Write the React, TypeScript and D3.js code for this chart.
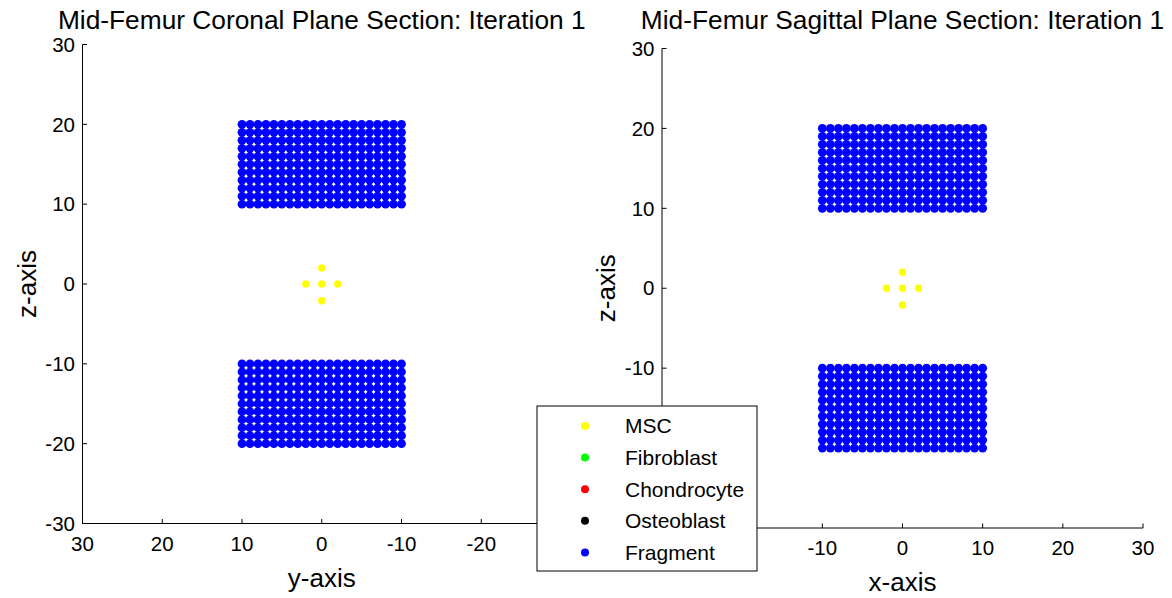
import React from 'react';
import * as d3 from 'd3';

const tickValues = [-30, -20, -10, 0, 10, 20, 30];
const gridCols = [-10, -9, -8, -7, -6, -5, -4, -3, -2, -1, 0, 1, 2, 3, 4, 5, 6, 7, 8, 9, 10];
const gridRowsTop = [10, 11, 12, 13, 14, 15, 16, 17, 18, 19, 20];
const gridRowsBottom = [-20, -19, -18, -17, -16, -15, -14, -13, -12, -11, -10];
const mscH = [0, -2, 2, 0, 0];
const mscV = [0, 0, 0, 2, -2.1];
const legendNames = ['MSC', 'Fibroblast', 'Chondrocyte', 'Osteoblast', 'Fragment'];
const legendColors = ['#ffff00', '#00ff00', '#ff0000', '#000000', '#0000ff'];

const FONT = "'Liberation Sans', Arial, Helvetica, sans-serif";

const LEG = { x: 537, y: 406, w: 220, h: 165 };
const inLegend = (px: number, py: number) =>
  px > LEG.x - 6 && px < LEG.x + LEG.w + 6 && py > LEG.y - 6 && py < LEG.y + LEG.h + 6;

type PanelCfg = {
  title: string;
  xLabel: string;
  yLabel: string;
  xDomain: [number, number];
  left: number;
  top: number;
  width: number;
  height: number;
};

const panels: PanelCfg[] = [
  { title: 'Mid-Femur Coronal Plane Section: Iteration 1', xLabel: 'y-axis', yLabel: 'z-axis', xDomain: [30, -30], left: 82.5, top: 44.5, width: 478.5, height: 479 },
  { title: 'Mid-Femur Sagittal Plane Section: Iteration 1', xLabel: 'x-axis', yLabel: 'z-axis', xDomain: [-30, 30], left: 662, top: 48.5, width: 481, height: 479.5 },
];

const fragPoints: [number, number][] = [];
[gridRowsTop, gridRowsBottom].forEach((rows) => {
  rows.forEach((r) => gridCols.forEach((c) => fragPoints.push([c, r])));
});
const mscPoints: [number, number][] = mscH.map((h, i) => [h, mscV[i]]);

function Panel({ cfg }: { cfg: PanelCfg }) {
  const x = d3.scaleLinear().domain(cfg.xDomain).range([cfg.left, cfg.left + cfg.width]);
  const y = d3.scaleLinear().domain([-30, 30]).range([cfg.top + cfg.height, cfg.top]);
  const x0 = cfg.left;
  const yb = cfg.top + cfg.height;
  const cx = cfg.left + cfg.width / 2;
  const cy = cfg.top + cfg.height / 2;
  return (
    <g fontFamily={FONT}>
      <text x={cx} y={29} textAnchor="middle" fontSize={26.3} fill="#000">{cfg.title}</text>
      {fragPoints.map((p, i) => (
        <circle key={'f' + i} cx={x(p[0])} cy={y(p[1])} r={4.4} fill="#0000ff" />
      ))}
      {mscPoints.map((p, i) => (
        <circle key={'m' + i} cx={x(p[0])} cy={y(p[1])} r={3.7} fill="#ffff00" />
      ))}
      <line x1={x0} x2={x0} y1={cfg.top} y2={yb} stroke="#000" strokeWidth={1} />
      <line x1={x0} x2={cfg.left + cfg.width} y1={yb} y2={yb} stroke="#000" strokeWidth={1} />
      {tickValues.map((t) => (
        <g key={'xt' + t}>
          <line x1={x(t)} x2={x(t)} y1={yb} y2={yb - 4.5} stroke="#000" />
          {!inLegend(x(t), yb + 20) && (
            <text x={x(t)} y={yb + 27} textAnchor="middle" fontSize={20.5}>{t}</text>
          )}
        </g>
      ))}
      {tickValues.map((t) => (
        <g key={'yt' + t}>
          <line x1={x0} x2={x0 + 4.5} y1={y(t)} y2={y(t)} stroke="#000" />
          {!inLegend(x0 - 20, y(t)) && (
            <text x={x0 - 7.5} y={y(t)} dy="0.35em" textAnchor="end" fontSize={20.5}>{t}</text>
          )}
        </g>
      ))}
      <text x={cx} y={yb + 63} textAnchor="middle" fontSize={26}>{cfg.xLabel}</text>
      <text transform={`translate(${x0 - 47},${cy}) rotate(-90)`} textAnchor="middle" fontSize={26}>{cfg.yLabel}</text>
    </g>
  );
}

export default function App() {
  const legendTop = 426;
  const legendStep = 31.6;
  return (
    <svg width={1172} height={598} style={{ position: 'absolute', left: 0, top: 0, background: '#fff' }}>
      <rect x={0} y={0} width={1172} height={598} fill="#fff" />
      {panels.map((p, i) => <Panel key={i} cfg={p} />)}
      <g fontFamily={FONT}>
        <rect x={LEG.x} y={LEG.y} width={LEG.w} height={LEG.h} fill="#fff" stroke="#000" strokeWidth={1} />
        {legendNames.map((n, i) => (
          <g key={n}>
            <circle cx={585} cy={legendTop + i * legendStep} r={4} fill={legendColors[i]} />
            <text x={625} y={legendTop + i * legendStep} dy="0.35em" fontSize={21}>{n}</text>
          </g>
        ))}
      </g>
    </svg>
  );
}
